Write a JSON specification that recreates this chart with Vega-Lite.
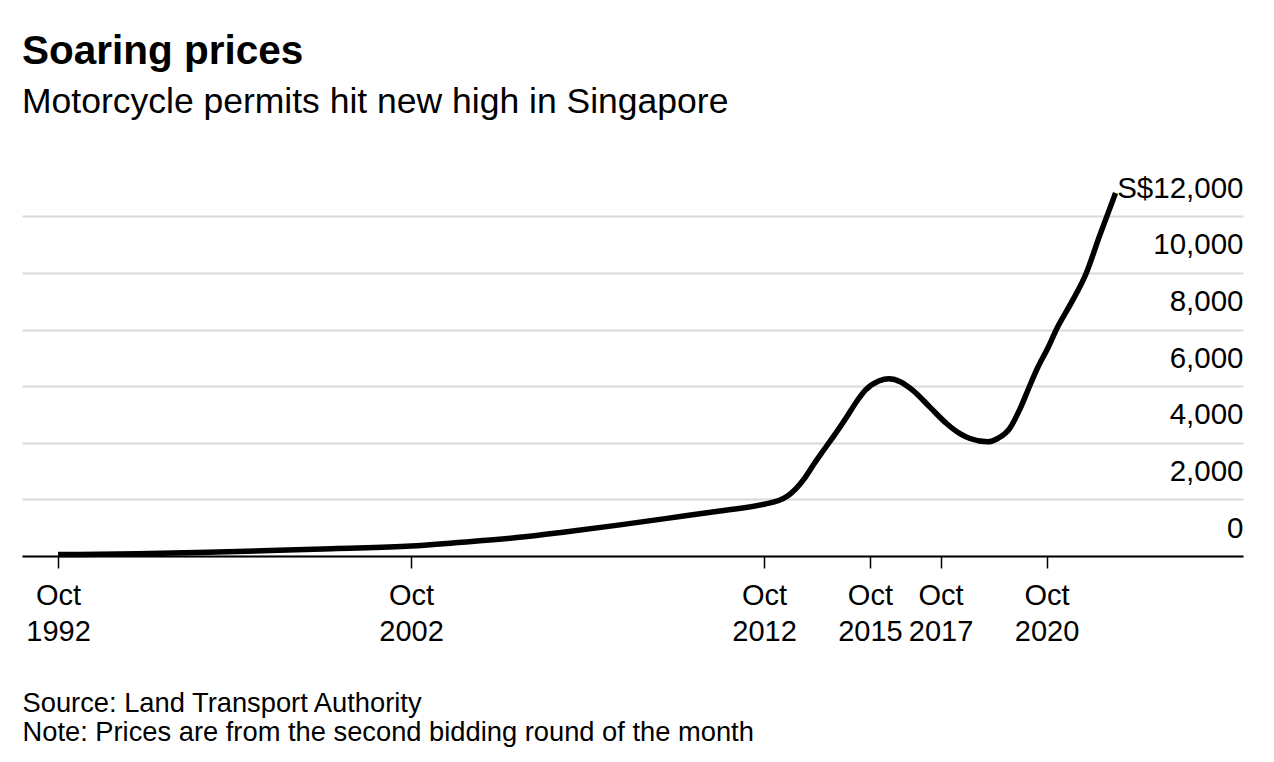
{
  "$schema": "https://vega.github.io/schema/vega-lite/v6.json",
  "autosize": {"type": "none"},
  "padding": {"left": 22, "top": 188, "right": 31, "bottom": 206},
  "width": 1221,
  "height": 368,
  "background": "white",
  "title": {
    "text": "Soaring prices",
    "subtitle": "Motorcycle permits hit new high in Singapore",
    "anchor": "start",
    "frame": "group",
    "font": "Liberation Sans",
    "fontSize": 40.5,
    "fontWeight": "bold",
    "color": "black",
    "subtitleFont": "Liberation Sans",
    "subtitleFontSize": 35.5,
    "subtitleColor": "black",
    "subtitlePadding": 12,
    "offset": 53
  },
  "data": {
    "values": [
      {"date": "1992-10-01", "price": 50},
      {"date": "1995-01-01", "price": 80},
      {"date": "1997-01-01", "price": 130},
      {"date": "1999-01-01", "price": 200},
      {"date": "2000-07-01", "price": 260},
      {"date": "2002-10-01", "price": 350},
      {"date": "2004-01-01", "price": 470},
      {"date": "2005-10-01", "price": 650},
      {"date": "2007-01-01", "price": 830},
      {"date": "2008-09-01", "price": 1100},
      {"date": "2010-01-01", "price": 1330},
      {"date": "2011-07-01", "price": 1590},
      {"date": "2012-10-01", "price": 1830},
      {"date": "2013-03-01", "price": 1960},
      {"date": "2013-06-01", "price": 2120},
      {"date": "2013-09-01", "price": 2400},
      {"date": "2013-12-01", "price": 2780},
      {"date": "2014-03-01", "price": 3250},
      {"date": "2014-06-01", "price": 3700},
      {"date": "2014-10-15", "price": 4350},
      {"date": "2015-02-01", "price": 4900},
      {"date": "2015-05-15", "price": 5450},
      {"date": "2015-08-15", "price": 5860},
      {"date": "2016-01-01", "price": 6180},
      {"date": "2016-04-15", "price": 6260},
      {"date": "2016-08-15", "price": 6150},
      {"date": "2016-12-15", "price": 5860},
      {"date": "2017-06-15", "price": 5250},
      {"date": "2017-12-01", "price": 4680},
      {"date": "2018-04-15", "price": 4330},
      {"date": "2018-08-01", "price": 4150},
      {"date": "2019-02-01", "price": 4035},
      {"date": "2019-05-15", "price": 4150},
      {"date": "2019-09-15", "price": 4500},
      {"date": "2020-01-01", "price": 5200},
      {"date": "2020-04-15", "price": 6050},
      {"date": "2020-07-01", "price": 6650},
      {"date": "2020-10-15", "price": 7350},
      {"date": "2021-01-15", "price": 8030},
      {"date": "2021-06-15", "price": 8950},
      {"date": "2021-11-15", "price": 9980},
      {"date": "2022-04-01", "price": 11290},
      {"date": "2022-09-15", "price": 12820}
    ]
  },
  "mark": {"type": "line", "color": "black", "strokeWidth": 5.5, "interpolate": "monotone"},
  "encoding": {
    "x": {
      "field": "date",
      "type": "temporal",
      "scale": {"domain": [{"year": 1991, "month": 9, "date": 24}, {"year": 2026, "month": 4, "date": 26}]},
      "axis": {
        "values": [
          {"year": 1992, "month": 10, "date": 1},
          {"year": 2002, "month": 10, "date": 1},
          {"year": 2012, "month": 10, "date": 1},
          {"year": 2015, "month": 10, "date": 1},
          {"year": 2017, "month": 10, "date": 1},
          {"year": 2020, "month": 10, "date": 1}
        ],
        "labelExpr": "[timeFormat(datum.value, '%b'), timeFormat(datum.value, '%Y')]",
        "labelFont": "Liberation Sans",
        "labelFontSize": 29,
        "labelColor": "black",
        "labelLineHeight": 36,
        "labelPadding": 13,
        "labelOverlap": false,
        "labelBound": false,
        "labelFlush": false,
        "domainColor": "black",
        "domainWidth": 2,
        "tickColor": "black",
        "tickWidth": 1.5,
        "tickSize": 12,
        "grid": false,
        "title": ["Source: Land Transport Authority", "Note: Prices are from the second bidding round of the month"],
        "titleFont": "Liberation Sans",
        "titleFontSize": 27.3,
        "titleFontWeight": "normal",
        "titleColor": "black",
        "titleAnchor": "start",
        "titleAlign": "left",
        "titleBaseline": "alphabetic",
        "titleLineHeight": 29,
        "titleX": 0,
        "titleY": 155
      }
    },
    "y": {
      "field": "price",
      "type": "quantitative",
      "scale": {"domain": [0, 13000], "nice": false},
      "axis": {
        "orient": "right",
        "values": [0, 2000, 4000, 6000, 8000, 10000, 12000],
        "labelExpr": "datum.value == 12000 ? 'S$12,000' : format(datum.value, ',')",
        "labelFont": "Liberation Sans",
        "labelFontSize": 29.5,
        "labelColor": "black",
        "labelAlign": "right",
        "labelBaseline": "alphabetic",
        "labelPadding": 0,
        "labelOffset": -19,
        "labelBound": false,
        "labelFlush": false,
        "labelOverlap": false,
        "domain": false,
        "ticks": false,
        "grid": true,
        "gridColor": "#d9d9d9",
        "gridWidth": 2,
        "title": null
      }
    }
  },
  "config": {"view": {"stroke": null}}
}
